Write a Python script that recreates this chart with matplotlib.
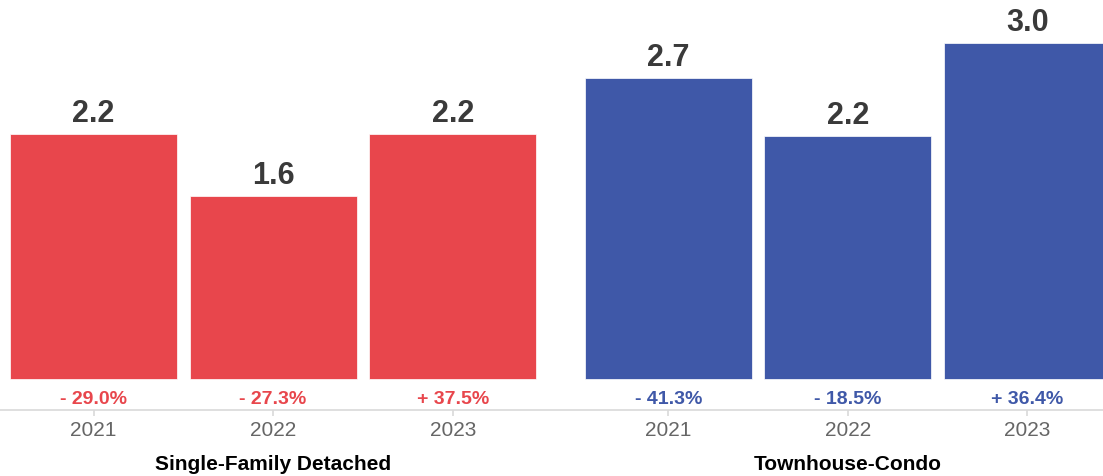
import matplotlib
matplotlib.use('Agg')
import matplotlib.pyplot as plt

# data
groups = ['Single-Family Detached', 'Townhouse-Condo']
years = ['2021', '2022', '2023']
sfd_values = [2.19, 1.63, 2.19]
tc_values = [2.69, 2.17, 3.0]
sfd_changes = ['- 29.0%', '- 27.3%', '+ 37.5%']
tc_changes = ['- 41.3%', '- 18.5%', '+ 36.4%']

red = '#E8464C'
blue = '#3F58A8'
dpi = 100
px = 72.0 / dpi  # points per pixel

plt.rcParams['font.family'] = ['Liberation Sans', 'DejaVu Sans']

fig = plt.figure(figsize=(11.03, 4.77), dpi=dpi)
ax = fig.add_axes([0, (477 - 411) / 477, 1, 411 / 477])

gap = 3.2
x_sfd = [0, 1, 2]
x_tc = [gap + i for i in range(3)]

series = [(x_sfd, sfd_values, sfd_changes, red),
          (x_tc, tc_values, tc_changes, blue)]

for xs, vals, changes, color in series:
    ax.bar(xs, vals, width=0.93, color=color, edgecolor='white',
           linewidth=0.5, zorder=2)
    for x, v, c in zip(xs, vals, changes):
        ax.annotate('%.1f' % v, xy=(x, v), xytext=(0, 13 * px),
                    textcoords='offset points', ha='center', va='baseline',
                    fontsize=22, fontweight='bold', color='#3a3a3a')
        ax.annotate(c, xy=(x, 0), xytext=(0, -24 * px),
                    textcoords='offset points', ha='center', va='baseline',
                    fontsize=14, fontweight='bold', color=color,
                    annotation_clip=False)

for xs, name in zip([x_sfd, x_tc], groups):
    ax.annotate(name, xy=(xs[1], 0), xytext=(0, -90 * px),
                textcoords='offset points', ha='center', va='baseline',
                fontsize=15, fontweight='bold', color='black',
                annotation_clip=False)

ax.set_xticks(x_sfd + x_tc)
ax.set_xticklabels(years * 2)
ax.tick_params(axis='x', length=4.5, width=1.2, color='#d9d9d9',
               labelsize=15, labelcolor='#666666', pad=2.5)
ax.set_yticks([])

unit = 112.0
ax.set_ylim(-31 / unit, 380 / unit)
ax.set_xlim(-93.5 / 179.6, (1103 - 93.5) / 179.6)

for s in ['top', 'right', 'left']:
    ax.spines[s].set_visible(False)
ax.spines['bottom'].set_color('#d9d9d9')
ax.spines['bottom'].set_linewidth(1.2)

fig.savefig('out.png', dpi=dpi)
